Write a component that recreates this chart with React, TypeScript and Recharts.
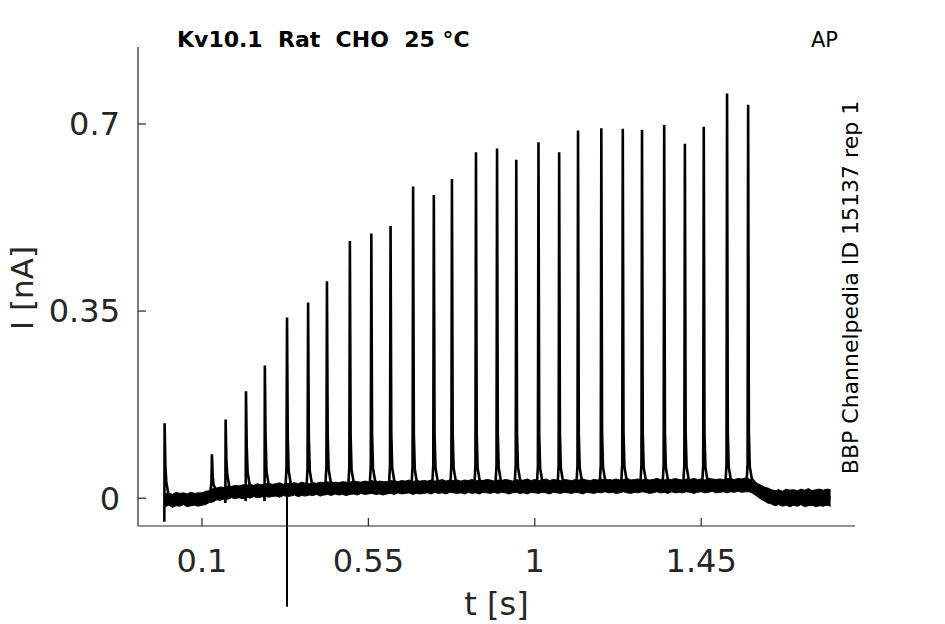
import React from 'react';
import { ComposedChart, Line, Area, XAxis, YAxis, ReferenceLine } from 'recharts';

// Spike times (s), peak currents (nA), and troughs (nA)
const spikeTimes = [-0.001, 0.127, 0.164, 0.219, 0.27, 0.33, 0.387, 0.438, 0.5, 0.558, 0.61, 0.671, 0.727, 0.776, 0.841, 0.898, 0.95, 1.01, 1.066, 1.117, 1.18, 1.238, 1.29, 1.35, 1.406, 1.457, 1.52, 1.577];
const spikePeaks = [0.14, 0.082, 0.147, 0.2, 0.248, 0.338, 0.366, 0.406, 0.481, 0.495, 0.509, 0.583, 0.567, 0.597, 0.647, 0.654, 0.633, 0.666, 0.647, 0.688, 0.692, 0.691, 0.689, 0.698, 0.663, 0.695, 0.757, 0.736];
const spikeTroughs: (number | null)[] = [-0.044, null, -0.009, -0.005, -0.005, -0.203, null, null, null, null, null, null, null, null, null, null, null, null, null, null, null, null, null, null, null, null, null, null];

// Baseline noise band (nA): lower and upper edge, one value every 0.01 s from t = 0
const bandStep = 0.01;
const bandLow = [
  -0.016, -0.013, -0.017, -0.014, -0.015, -0.012, -0.016, -0.014, -0.013, -0.015,
  -0.013, -0.012, -0.008, -0.007, -0.003, -0.004, -0.001, -0.002, 0.001, -0.001,
  0.001, -0.001, 0.002, 0.0, 0.003, 0.001, 0.002, 0.004, 0.002, 0.003,
  0.004, 0.002, 0.005, 0.003, 0.004, 0.006, 0.003, 0.005, 0.004, 0.006,
  0.005, 0.007, 0.004, 0.006, 0.007, 0.005, 0.008, 0.006, 0.007, 0.005,
  0.007, 0.008, 0.006, 0.009, 0.007, 0.008, 0.009, 0.007, 0.008, 0.006,
  0.008, 0.009, 0.007, 0.01, 0.008, 0.009, 0.01, 0.007, 0.009, 0.008,
  0.009, 0.01, 0.008, 0.011, 0.009, 0.01, 0.008, 0.011, 0.01, 0.009,
  0.01, 0.008, 0.011, 0.009, 0.01, 0.008, 0.011, 0.01, 0.009, 0.011,
  0.009, 0.011, 0.01, 0.008, 0.01, 0.011, 0.009, 0.01, 0.008, 0.011,
  0.01, 0.009, 0.011, 0.01, 0.008, 0.011, 0.01, 0.009, 0.011, 0.01,
  0.009, 0.011, 0.01, 0.008, 0.011, 0.01, 0.009, 0.011, 0.01, 0.012,
  0.01, 0.011, 0.009, 0.01, 0.012, 0.01, 0.009, 0.011, 0.01, 0.012,
  0.011, 0.009, 0.01, 0.012, 0.01, 0.011, 0.009, 0.012, 0.01, 0.011,
  0.01, 0.012, 0.011, 0.009, 0.011, 0.012, 0.01, 0.011, 0.013, 0.01,
  0.011, 0.012, 0.01, 0.012, 0.011, 0.013, 0.011, 0.012, 0.012, 0.009,
  0.004, -0.001, -0.005, -0.009, -0.011, -0.014, -0.012, -0.015, -0.013, -0.016,
  -0.013, -0.015, -0.012, -0.016, -0.014, -0.013, -0.016, -0.014, -0.015, -0.013,
  -0.015,
];
const bandHigh = [
  0.008, 0.01, 0.007, 0.011, 0.009, 0.01, 0.008, 0.011, 0.009, 0.01,
  0.01, 0.013, 0.014, 0.018, 0.019, 0.021, 0.02, 0.023, 0.022, 0.024,
  0.023, 0.025, 0.024, 0.026, 0.024, 0.027, 0.025, 0.026, 0.028, 0.026,
  0.027, 0.029, 0.026, 0.028, 0.027, 0.029, 0.027, 0.03, 0.028, 0.027,
  0.029, 0.028, 0.03, 0.029, 0.031, 0.028, 0.03, 0.029, 0.031, 0.03,
  0.03, 0.032, 0.031, 0.03, 0.032, 0.031, 0.033, 0.03, 0.032, 0.031,
  0.031, 0.033, 0.032, 0.031, 0.033, 0.032, 0.034, 0.031, 0.033, 0.032,
  0.033, 0.032, 0.034, 0.032, 0.033, 0.035, 0.032, 0.034, 0.033, 0.034,
  0.032, 0.034, 0.033, 0.035, 0.032, 0.034, 0.033, 0.035, 0.034, 0.032,
  0.034, 0.033, 0.035, 0.034, 0.032, 0.035, 0.033, 0.034, 0.036, 0.033,
  0.035, 0.033, 0.034, 0.036, 0.033, 0.035, 0.034, 0.033, 0.035, 0.034,
  0.033, 0.035, 0.034, 0.036, 0.034, 0.033, 0.035, 0.034, 0.036, 0.034,
  0.035, 0.034, 0.036, 0.034, 0.035, 0.037, 0.034, 0.035, 0.036, 0.034,
  0.036, 0.034, 0.035, 0.037, 0.035, 0.034, 0.036, 0.035, 0.037, 0.035,
  0.034, 0.036, 0.035, 0.037, 0.035, 0.036, 0.034, 0.037, 0.036, 0.035,
  0.036, 0.035, 0.037, 0.036, 0.035, 0.037, 0.036, 0.038, 0.036, 0.032,
  0.028, 0.025, 0.021, 0.019, 0.016, 0.014, 0.016, 0.013, 0.017, 0.015,
  0.016, 0.014, 0.017, 0.015, 0.018, 0.014, 0.016, 0.017, 0.015, 0.017,
  0.016,
];

const xTicks = [0.1, 0.55, 1, 1.45];
const xTickLabels = ['0.1', '0.55', '1', '1.45'];
const yTicks = [0, 0.35, 0.7];
const yTickLabels = ['0', '0.35', '0.7'];

const X_DOMAIN: [number, number] = [-0.073, 1.866];
const Y_DOMAIN: [number, number] = [-0.052, 0.844];

const bandData = bandLow.map((lo, i) => ({ t: +(i * bandStep).toFixed(3), band: [lo, bandHigh[i]] }));

const centerAt = (t: number) => {
  const i = Math.max(0, Math.min(bandLow.length - 1, Math.round(t / bandStep)));
  return (bandLow[i] + bandHigh[i]) / 2;
};

const traceData: { t: number; v: number }[] = [];
spikeTimes.forEach((ts, k) => {
  const b = centerAt(Math.max(ts, 0));
  const peak = spikePeaks[k];
  const tr = spikeTroughs[k];
  const pts: [number, number][] = [];
  if (k > 0) {
    pts.push([ts - 0.012, b], [ts - 0.004, b + 0.008]);
  }
  if (tr !== null && tr >= Y_DOMAIN[0]) pts.push([ts - 0.0008, tr]);
  else if (k > 0) pts.push([ts - 0.0015, b + Math.min(0.04, 0.3 * (peak - b))]);
  pts.push([ts, peak]);
  pts.push(
    [ts + 0.002, b + Math.min(0.1, 0.45 * (peak - b))],
    [ts + 0.0045, b + Math.min(0.035, 0.25 * (peak - b))],
    [ts + 0.01, b + 0.012],
    [ts + 0.02, b + 0.004],
  );
  pts.forEach(([t, v]) => traceData.push({ t: +t.toFixed(4), v }));
});
const lastSpike = spikeTimes[spikeTimes.length - 1];
bandData.forEach((d, i) => {
  if (d.t > lastSpike + 0.02) traceData.push({ t: d.t, v: (bandLow[i] + bandHigh[i]) / 2 });
});

const overflowTroughs = spikeTimes
  .map((t, k) => ({ t, tr: spikeTroughs[k] }))
  .filter((d) => d.tr !== null && (d.tr as number) < Y_DOMAIN[0]);

const FONT = 'DejaVu Sans';
const AX = '#262626';

export default function App() {
  return (
    <div style={{ position: 'absolute', left: 0, top: 0, width: 945, height: 624, background: '#fff' }}>
      <ComposedChart width={945} height={624} margin={{ top: 47, right: 90, left: 78, bottom: 58 }}>
        <XAxis
          type="number"
          dataKey="t"
          domain={X_DOMAIN}
          allowDataOverflow
          ticks={xTicks}
          tickFormatter={(v: number) => xTickLabels[xTicks.indexOf(v)] ?? String(v)}
          height={40}
          tickSize={-8}
          tickMargin={31}
          axisLine={{ stroke: AX, strokeWidth: 1.2 }}
          tickLine={{ stroke: AX, strokeWidth: 1.2 }}
          tick={{ fill: AX, fontSize: 32, fontFamily: FONT }}
        />
        <YAxis
          type="number"
          domain={Y_DOMAIN}
          ticks={yTicks}
          tickFormatter={(v: number) => yTickLabels[yTicks.indexOf(v)] ?? String(v)}
          width={60}
          tickSize={-8}
          tickMargin={26}
          axisLine={{ stroke: AX, strokeWidth: 1.2 }}
          tickLine={{ stroke: AX, strokeWidth: 1.2 }}
          tick={{ fill: AX, fontSize: 32, fontFamily: FONT }}
        />
        <Area
          data={bandData}
          dataKey="band"
          type="linear"
          stroke="#000"
          strokeWidth={1}
          fill="#000"
          fillOpacity={1}
          dot={false}
          activeDot={false}
          isAnimationActive={false}
        />
        <Line
          data={traceData}
          dataKey="v"
          type="linear"
          stroke="#000"
          strokeWidth={2.6}
          dot={false}
          activeDot={false}
          isAnimationActive={false}
        />
        {overflowTroughs.map((d) => (
          <ReferenceLine
            key={d.t}
            segment={[
              { x: d.t, y: centerAt(d.t) },
              { x: d.t, y: d.tr as number },
            ]}
            stroke="#000"
            strokeWidth={2}
            ifOverflow="visible"
          />
        ))}
      </ComposedChart>
      <svg
        width={945}
        height={624}
        style={{ position: 'absolute', left: 0, top: 0, pointerEvents: 'none' }}
        fontFamily={FONT}
      >
        <text x={177} y={46.7} fontSize={22} fontWeight="bold" fill="#000" style={{ whiteSpace: 'pre' }}>
          {'Kv10.1  Rat  CHO  25 °C'}
        </text>
        <text x={811} y={46.5} fontSize={21} fill="#000">AP</text>
        <text x={858} y={287.5} fontSize={22} fill="#000" textAnchor="middle" transform="rotate(-90 858 287.5)">
          BBP Channelpedia ID 15137 rep 1
        </text>
        <text x={32.5} y={288} fontSize={31} fill={AX} textAnchor="middle" transform="rotate(-90 32.5 288)">
          I [nA]
        </text>
        <text x={496.5} y={615} fontSize={32} fill={AX} textAnchor="middle">
          t [s]
        </text>
      </svg>
    </div>
  );
}
